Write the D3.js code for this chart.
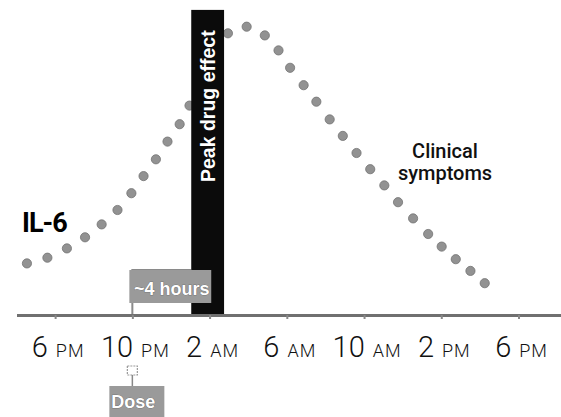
<!DOCTYPE html>
<html>
<head>
<meta charset="utf-8">
<script src="https://cdn.jsdelivr.net/npm/d3@7"></script>
<style>
  html, body { margin: 0; padding: 0; background: #fff; }
  svg { display: block; }
</style>
</head>
<body>
<svg id="chart" width="561" height="417"></svg>
<script>
// ---- data ----
// time in hours (18 = 6 PM, 26 = 2 AM next day, 42 = 6 PM next day)
const tickHours = [18, 22, 26, 30, 34, 38, 42];
const tickNumbers = ["6", "10", "2", "6", "10", "2", "6"];
const tickSuffixes = ["PM", "PM", "AM", "AM", "AM", "PM", "PM"];

// IL-6 dotted curve (relative level 0–100)
const il6Hours = [16.54, 17.60, 18.61, 19.55, 20.41, 21.23, 21.95, 22.58, 23.22, 23.82, 24.45, 24.96,
                  25.45, 25.91, 26.43, 26.95, 27.92, 28.86, 29.57, 30.17, 30.87, 31.53, 32.22, 32.90,
                  33.61, 34.32, 35.05, 35.76, 36.54, 37.32, 38.02, 38.75, 39.51, 40.25];
const il6Levels = [17.2, 19.1, 22.2, 25.9, 30.2, 35.0, 40.6, 46.3, 51.9, 57.8, 63.6, 69.8,
                   76.3, 83.0, 89.0, 93.9, 96.1, 93.2, 88.2, 82.4, 76.6, 71.1, 65.2, 59.7,
                   54.0, 48.6, 43.2, 37.6, 32.2, 27.0, 22.8, 18.6, 14.7, 10.6];

// peak drug effect window (hours) and height
const peakWindow = [25.05, 26.75];
const peakTop = 101.7;
const doseHour = 22;

// ---- scales ----
const W = 561, H = 417;
const x = d3.scaleLinear().domain([16, 44.2]).range([16.5, 561]);
const y = d3.scaleLinear().domain([0, 100]).range([315, 15]);

const svg = d3.select("#chart");
const gray = "#8a8a8a";

// dots
svg.append("g").selectAll("circle")
  .data(il6Hours.map((h, i) => ({ h, v: il6Levels[i] })))
  .join("circle")
  .attr("cx", d => x(d.h))
  .attr("cy", d => y(d.v))
  .attr("r", 4.6)
  .attr("fill", "#929292")
  .attr("stroke", "#727272")
  .attr("stroke-width", 0.8);

// ~4 hours bracket outline (from dose to peak)
svg.append("path")
  .attr("d", `M${x(doseHour)},${y(0)} V${y(15)} H${x(peakWindow[0])}`)
  .attr("fill", "none")
  .attr("stroke", gray)
  .attr("stroke-width", 2);

// peak bar
svg.append("rect")
  .attr("x", x(peakWindow[0]))
  .attr("y", y(peakTop))
  .attr("width", x(peakWindow[1]) - x(peakWindow[0]))
  .attr("height", y(0) - y(peakTop))
  .attr("fill", "#0b0b0b");

const barCx = (x(peakWindow[0]) + x(peakWindow[1])) / 2;
svg.append("text")
  .attr("transform", `translate(${barCx + 7},${y(69.6)}) rotate(-90)`)
  .attr("text-anchor", "middle")
  .attr("font-family", "Liberation Sans, Arial, sans-serif")
  .attr("font-weight", "bold")
  .attr("font-size", 19.5)
  .attr("fill", "#fff")
  .text("Peak drug effect");

// ~4 hours label box
svg.append("rect")
  .attr("x", x(doseHour) - 3)
  .attr("y", y(15))
  .attr("width", x(peakWindow[0]) + 20 - (x(doseHour) - 3))
  .attr("height", 33)
  .attr("fill", "#9a9a9a");
svg.append("text")
  .attr("x", (x(doseHour) + x(peakWindow[0]) + 20) / 2)
  .attr("y", y(15) + 25)
  .attr("text-anchor", "middle")
  .attr("font-family", "Liberation Sans, Arial, sans-serif")
  .attr("font-weight", "bold")
  .attr("font-size", 18)
  .attr("fill", "#fff")
  .attr("stroke", "#555")
  .attr("stroke-width", 0.6)
  .attr("paint-order", "stroke")
  .text("~4 hours");

// axis
const axis = d3.axisBottom(x)
  .tickValues(tickHours)
  .tickSize(4)
  .tickSizeOuter(0)
  .tickFormat("");
const gAxis = svg.append("g").attr("transform", `translate(0,${y(0)})`).call(axis);
gAxis.select(".domain").attr("stroke", "#707070").attr("stroke-width", 3);
gAxis.selectAll(".tick line").attr("stroke", "#888").attr("stroke-width", 2);

const labels = svg.append("g").selectAll("text")
  .data(tickHours)
  .join("text")
  .attr("x", d => x(d) + 3)
  .attr("y", 357)
  .attr("text-anchor", "middle")
  .attr("font-family", "Roboto, Liberation Sans, sans-serif")
  .attr("font-weight", 300)
  .attr("fill", "#111");
labels.append("tspan")
  .attr("font-size", 29)
  .text((d, i) => tickNumbers[i]);
labels.append("tspan")
  .attr("font-size", 18)
  .attr("dx", 8)
  .attr("letter-spacing", 1)
  .text((d, i) => tickSuffixes[i]);

// dose marker
const dx = x(doseHour);
svg.append("rect")
  .attr("x", dx - 5).attr("y", 366).attr("width", 10).attr("height", 9)
  .attr("fill", "#fff").attr("stroke", "#999").attr("stroke-width", 1.2)
  .attr("stroke-dasharray", "2,1");
svg.append("line")
  .attr("x1", dx).attr("x2", dx).attr("y1", 375).attr("y2", 386)
  .attr("stroke", "#888").attr("stroke-width", 1.5);
svg.append("rect")
  .attr("x", dx - 23).attr("y", 386).attr("width", 55).attr("height", 31)
  .attr("fill", "#9a9a9a");
svg.append("text")
  .attr("x", dx + 1).attr("y", 408)
  .attr("text-anchor", "middle")
  .attr("font-family", "Liberation Sans, Arial, sans-serif")
  .attr("font-weight", "bold")
  .attr("font-size", 18)
  .attr("fill", "#fff")
  .attr("stroke", "#555")
  .attr("stroke-width", 0.6)
  .attr("paint-order", "stroke")
  .text("Dose");

// series labels
svg.append("text")
  .attr("x", 22).attr("y", 232)
  .attr("font-family", "Roboto, Liberation Sans, Arial, sans-serif")
  .attr("font-weight", "bold")
  .attr("font-size", 27)
  .attr("letter-spacing", -1)
  .attr("fill", "#000")
  .text("IL-6");

const clin = svg.append("text")
  .attr("x", 445).attr("y", 158)
  .attr("text-anchor", "middle")
  .attr("font-family", "Roboto, Liberation Sans, sans-serif")
  .attr("font-weight", 500)
  .attr("font-size", 20)
  .attr("fill", "#111");
clin.append("tspan").attr("x", 445).text("Clinical");
clin.append("tspan").attr("x", 445).attr("dy", 22).text("symptoms");
</script>
</body>
</html>
